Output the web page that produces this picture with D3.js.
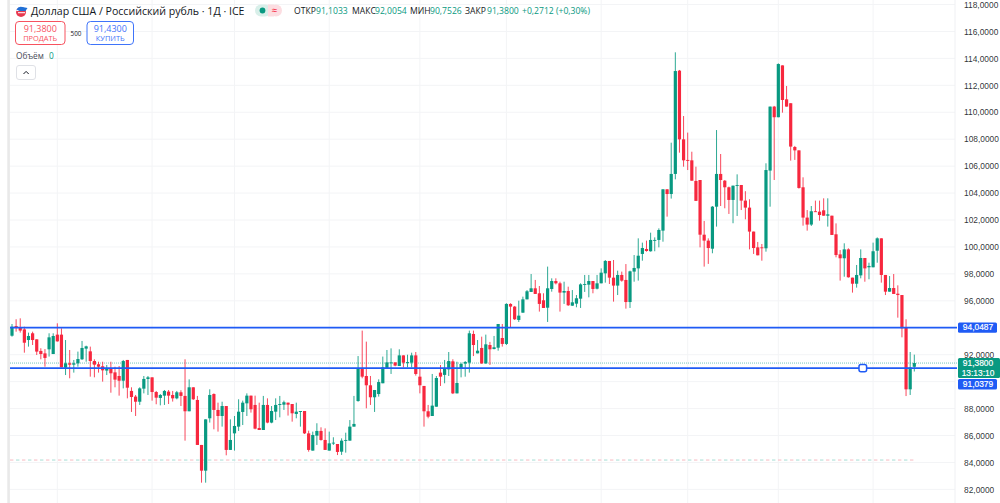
<!DOCTYPE html>
<html><head><meta charset="utf-8">
<style>
html,body{margin:0;padding:0;background:#fff;overflow:hidden}
svg{display:block}
text{font-family:"Open Sans","Noto Sans",sans-serif}
.ax text{font-family:"Liberation Sans",Arial,sans-serif}
</style>
<script src="https://cdn.jsdelivr.net/npm/d3@7"></script>
</head><body><div id="c"></div>
<script>
const opens=[93.41,94.13,94.01,93.88,93.09,93.59,93.14,92.28,92.10,92.40,92.05,93.49,93.49,91.04,91.36,91.26,91.36,91.66,92.45,92.25,
91.53,91.29,91.14,90.82,90.94,90.69,90.42,90.07,91.61,89.31,88.89,88.51,89.48,90.20,90.32,89.23,88.79,88.96,89.26,89.01,
88.76,89.21,88.94,87.80,89.58,88.64,85.30,83.39,87.28,89.08,87.90,87.45,88.19,84.93,86.16,86.66,87.75,88.39,88.96,88.27,
86.56,86.41,88.27,86.96,87.77,88.27,88.29,88.44,88.34,87.60,87.75,87.82,86.16,84.88,85.99,86.34,85.67,84.88,85.42,85.37,
84.80,85.62,85.62,86.66,88.56,90.99,90.42,89.73,88.84,89.08,89.88,90.99,91.36,91.43,91.16,91.95,91.41,91.41,91.95,90.37,
89.68,87.80,87.45,88.14,90.67,90.50,90.91,91.51,89.13,90.99,91.34,91.41,93.54,92.10,92.50,91.36,92.72,92.42,92.52,93.24,
92.80,95.77,95.57,94.58,95.12,96.11,96.66,96.93,96.56,96.04,95.49,96.88,97.47,97.30,96.61,96.73,95.64,95.79,96.16,97.20,
97.20,97.47,96.90,97.30,98.04,98.96,97.72,97.13,97.92,97.55,95.91,98.17,98.41,99.48,99.85,99.68,100.47,100.52,101.21,104.28,
103.93,105.42,113.09,107.99,106.46,106.43,104.90,104.97,100.91,100.47,99.87,102.99,105.42,104.92,104.43,103.49,104.55,104.60,103.44,102.92,
101.14,99.97,99.97,99.90,105.67,110.42,109.63,113.48,110.96,110.67,107.42,107.17,104.43,102.18,101.66,102.65,102.62,102.72,102.32,102.32,
100.94,99.45,99.16,99.82,97.72,97.27,97.89,99.18,98.49,98.49,99.72,100.64,97.92,96.68,96.95,96.53,96.43,94.01,89.43,91.1033];
const highs=[94.28,94.63,94.70,94.08,93.64,93.71,93.14,92.48,92.42,93.59,93.59,94.33,93.96,93.09,92.35,91.61,92.23,93.02,92.67,92.60,
91.66,91.48,91.48,91.24,91.48,91.11,91.16,91.61,91.61,89.58,89.01,89.58,90.42,90.42,90.32,89.31,89.08,89.38,89.38,89.31,
89.31,89.36,91.66,90.17,89.58,88.94,85.30,87.20,89.43,89.13,88.44,88.51,88.19,87.20,87.45,88.69,88.59,89.13,88.96,88.96,
88.44,88.94,88.76,88.19,88.76,88.94,88.59,88.44,88.34,88.44,87.82,87.82,86.36,86.29,86.91,86.61,86.53,86.29,85.87,85.37,
85.79,86.21,87.15,88.94,91.90,93.79,92.97,90.42,89.38,90.17,91.86,92.35,92.47,91.43,92.40,91.95,92.00,92.15,92.20,91.06,
89.68,88.27,90.57,90.42,91.24,91.61,92.20,91.66,91.48,91.41,91.53,93.79,93.79,93.09,93.34,93.49,92.95,93.39,94.28,94.28,
95.82,95.82,95.62,96.01,96.31,96.80,97.99,97.55,97.10,96.56,98.54,97.67,97.67,97.42,97.42,97.05,96.80,96.43,97.30,97.92,
97.92,97.47,97.92,98.41,99.03,98.96,99.03,98.24,98.17,98.73,98.24,99.40,100.64,100.32,100.47,101.06,100.71,101.38,104.28,104.28,
107.74,114.45,113.14,109.72,108.49,107.07,105.96,104.97,101.93,100.64,103.04,108.68,106.90,104.97,104.48,104.55,105.39,104.60,104.14,103.54,
101.14,100.37,100.22,106.21,110.42,110.47,113.63,113.48,111.95,110.67,107.50,107.17,105.17,102.74,103.04,103.44,103.44,103.61,103.61,102.32,
101.75,99.77,100.27,99.90,97.72,98.66,99.82,99.18,98.83,100.32,100.71,100.64,97.92,97.84,97.99,97.15,96.43,94.63,92.20,92.0054];
const lows=[93.34,93.71,93.64,92.15,92.60,92.72,91.98,91.66,91.11,91.86,92.05,92.97,91.06,90.49,90.25,90.67,91.11,91.61,91.48,90.37,
90.32,90.67,90.00,90.49,89.18,89.58,88.96,89.50,88.76,87.75,87.45,88.27,89.13,89.01,88.59,88.32,88.24,88.27,88.34,88.52,
88.69,88.19,85.62,87.80,88.64,85.30,82.50,82.50,86.96,86.46,86.29,86.66,84.53,84.93,84.88,86.34,86.78,87.45,87.70,86.46,
86.41,86.41,86.91,86.91,87.15,87.35,87.90,87.48,87.03,87.28,86.66,86.11,84.80,84.88,85.30,85.62,84.93,84.88,85.30,84.55,
84.56,84.73,85.62,86.66,88.51,90.25,88.02,88.27,87.75,88.89,89.88,90.99,90.57,91.14,91.16,91.06,91.06,91.06,90.45,89.13,
86.66,87.28,87.45,88.14,89.68,89.88,90.42,89.08,89.13,90.32,90.37,90.67,91.90,92.10,91.31,91.31,91.24,92.40,92.30,92.60,
92.72,94.03,94.58,94.43,95.12,96.11,96.66,96.51,95.20,95.47,94.43,96.68,97.22,95.20,95.77,95.62,95.62,95.52,95.47,96.66,
96.26,96.56,96.85,97.30,97.35,97.25,95.94,96.43,97.42,95.42,95.47,97.42,97.50,98.98,99.65,99.65,99.68,99.97,100.39,102.25,
103.59,105.02,107.00,105.96,105.71,104.92,103.42,99.97,98.54,98.74,99.53,101.51,103.04,102.87,102.45,101.76,102.30,102.74,102.05,99.82,
99.48,99.38,98.98,99.65,102.99,104.97,109.63,109.97,110.42,106.41,106.46,104.33,101.58,101.21,101.56,102.60,101.95,102.32,101.51,100.89,
99.23,97.50,97.79,97.72,96.61,96.98,97.67,97.42,97.60,98.49,98.83,97.35,96.43,96.68,96.51,94.75,93.29,88.93,89.01,90.7526];
const closes=[94.08,93.98,93.79,92.89,93.39,93.09,92.23,92.05,91.76,93.29,93.39,92.99,91.06,91.36,91.26,91.36,91.68,92.50,92.62,91.53,
91.26,91.11,90.84,90.99,90.62,90.15,90.07,91.53,89.55,88.86,88.51,89.50,90.20,90.32,89.23,88.81,89.01,89.31,88.96,88.76,
89.21,88.94,87.80,89.58,88.69,85.30,83.39,87.20,89.01,87.90,87.45,88.19,84.93,85.67,86.71,87.77,88.44,88.96,87.95,86.51,
86.41,88.27,86.96,87.82,88.27,88.34,88.47,88.29,87.65,87.77,87.82,86.16,84.93,86.04,86.34,85.67,84.93,85.42,85.47,84.78,
85.62,85.67,86.66,86.86,90.99,90.37,89.73,88.84,89.38,89.97,91.06,91.43,91.43,91.19,91.95,91.41,91.46,91.95,90.57,89.73,
87.80,87.40,88.22,90.27,90.37,90.99,91.53,89.13,89.90,91.31,91.46,93.59,92.72,92.30,91.36,92.77,92.40,92.55,94.28,92.80,
95.77,95.57,94.63,94.90,96.11,96.71,96.93,96.51,95.77,95.47,96.93,97.47,97.30,96.61,96.73,95.67,95.89,96.19,97.22,97.25,
97.47,96.88,97.30,98.09,98.96,97.72,97.13,97.92,97.50,95.91,98.19,98.44,99.35,99.92,99.70,100.52,100.52,101.26,104.28,103.93,
105.42,113.06,107.99,106.43,106.43,104.92,103.42,100.91,100.47,99.92,102.99,105.42,104.97,104.43,103.49,104.55,104.60,103.44,102.92,101.14,
99.92,99.38,99.95,105.71,110.42,109.63,113.58,110.91,110.42,107.45,107.17,104.38,102.18,101.66,102.65,102.60,102.37,102.32,102.42,100.89,
99.40,99.16,99.82,97.75,97.27,97.92,99.18,98.41,98.59,99.68,100.64,97.92,96.68,96.95,96.51,96.43,93.96,89.43,91.05,91.38];

const gridPrices=d3.range(82,119,2);
const tickLabelPrices=[82,84,86,88,92,96,98,100,102,104,106,108,110,112,114,116,118];
const monthStarts=[12,35,55,78,100,121,144,165,187,210];
const lineLevels=[94.0487,91.0379];
const lastPrice=91.38;
const basePrice=84.18;
const handleCandle=207.5;

const W=1000,H=503,LEFT=10,RIGHT=955;
const UP="#089981",DOWN="#f7273e",BLUE="#1f5bf5",INK="#131722",MUTED="#4a4e5a";
const fmt=v=>d3.format(".4f")(v).replace(".",",");

const y=d3.scaleLinear().domain([82,118]).range([489.4,4.5]);
const x=d3.scaleLinear().domain([1,opens.length]).range([12,914.3]);
const color=i=>closes[i]>=opens[i]?UP:DOWN;

const svg=d3.select("#c").append("svg").attr("width",W).attr("height",H).attr("viewBox",[0,0,W,H]);

// left edge strip
svg.append("rect").attr("x",7.3).attr("y",0).attr("width",2.6).attr("height",H).attr("fill","#e9e9e9");

// grid
svg.append("g").selectAll("line").data(gridPrices).join("line")
 .attr("x1",LEFT).attr("x2",RIGHT).attr("y1",d=>y(d)).attr("y2",d=>y(d)).attr("stroke","#f3f4f6");
svg.append("g").selectAll("line").data(monthStarts).join("line")
 .attr("x1",d=>x(d)).attr("x2",d=>x(d)).attr("y1",0).attr("y2",H).attr("stroke","#f3f4f6");
svg.append("line").attr("x1",RIGHT).attr("x2",RIGHT).attr("y1",0).attr("y2",H).attr("stroke","#eff0f3");

// axis
const axis=d3.axisRight(y).tickValues(tickLabelPrices).tickFormat(fmt).tickSize(0).tickPadding(0);
const ag=svg.append("g").attr("class","ax").attr("transform","translate(964,0)").call(axis);
ag.select(".domain").remove();
ag.selectAll("text").attr("font-size",8.4).attr("fill",INK).attr("fill-opacity",.9);

// base line (red / teal dashes)
[["#f7b9c0",0],["#a5ded5",-6]].forEach(([c,off])=>{
 svg.append("line").attr("x1",LEFT).attr("x2",916).attr("y1",y(basePrice)).attr("y2",y(basePrice))
  .attr("stroke",c).attr("stroke-dasharray","3.4 8.6").attr("stroke-dashoffset",off);
});
// last-price dotted line
svg.append("line").attr("x1",LEFT).attr("x2",RIGHT+2).attr("y1",y(lastPrice)).attr("y2",y(lastPrice))
 .attr("stroke",UP).attr("stroke-opacity",.55).attr("stroke-dasharray","1 1");

// candles
const idx=d3.range(opens.length);
const g=svg.append("g");
g.selectAll(".w").data(idx).join("line").attr("class","w")
 .attr("x1",i=>x(i+1)).attr("x2",i=>x(i+1)).attr("y1",i=>y(highs[i])).attr("y2",i=>y(lows[i]))
 .attr("stroke",color).attr("stroke-width",.85);
g.selectAll(".b").data(idx).join("rect").attr("class","b")
 .attr("x",i=>x(i+1)-1.6).attr("width",3.2)
 .attr("y",i=>y(Math.max(opens[i],closes[i])))
 .attr("height",i=>Math.max(.9,Math.abs(y(opens[i])-y(closes[i]))))
 .attr("fill",color);

// horizontal blue lines
svg.append("g").attr("transform","translate(0,.5)").selectAll("line").data(lineLevels).join("line")
 .attr("x1",LEFT).attr("x2",RIGHT+2).attr("y1",d=>y(d)).attr("y2",d=>y(d))
 .attr("stroke",BLUE).attr("stroke-width",1.8);
svg.append("rect").attr("x",x(handleCandle)-3.8).attr("y",y(lineLevels[1])-3.1).attr("width",7.6).attr("height",7.2)
 .attr("rx",2).attr("fill","#fff").attr("stroke",BLUE).attr("stroke-width",1.5);

// axis tags
const tag=(t0,t1,bg,lines)=>{
 svg.append("rect").attr("x",958).attr("y",t0).attr("width",t1[0]).attr("height",t1[1]).attr("rx",1.5).attr("fill",bg);
 lines.forEach((s,k)=>svg.append("text").attr("x",978).attr("y",t0+7.9+k*9.6)
  .attr("text-anchor","middle").attr("font-size",8.4).attr("fill","#fff")
  .attr("stroke","#fff").attr("stroke-width",.18)
  .style("font-family",'"Liberation Sans",Arial,sans-serif').text(s));
};
tag(y(lineLevels[0])-4.7,[39,10.4],BLUE,[fmt(lineLevels[0])]);
tag(358,[42,20],UP,[fmt(lastPrice),"13:13:10"]);
tag(379,[39,10.4],BLUE,[fmt(lineLevels[1])]);

// header
const T=(s,xx,yy,fs,fill,anchor)=>svg.append("text").attr("x",xx).attr("y",yy).attr("font-size",fs).attr("fill",fill)
  .attr("text-anchor",anchor||"start").text(s);
// flag icon
const fl=svg.append("g");
fl.append("circle").attr("cx",21).attr("cy",12).attr("r",5).attr("fill","#e8384f");
fl.append("path").attr("d","M16 12a5 5 0 0 1 5-5h2v4h-7z").attr("fill","#fff");
fl.append("path").attr("d","M16.5 9.5a5 5 0 0 1 6-2.5l5 1-2 3h-6z").attr("fill","#1f6fd6");
fl.append("rect").attr("x",18).attr("y",12.2).attr("width",7).attr("height",1).attr("fill","#fff");
T("Доллар США / Российский рубль · 1Д · ICE",31,14.6,10.6,INK);
// status pills
svg.append("rect").attr("x",255).attr("y",4.5).attr("width",16).attr("height",12).attr("rx",6).attr("fill","#d8efe9");
svg.append("rect").attr("x",270).attr("y",4.5).attr("width",12).attr("height",12).attr("rx",6).attr("fill","#fcdde1");
svg.append("rect").attr("x",268).attr("y",4.5).attr("width",6).attr("height",12).attr("fill","#fcdde1");
svg.append("circle").attr("cx",262.5).attr("cy",10.5).attr("r",2.9).attr("fill",UP);
T("≈",274.5,13.8,10,DOWN,"middle");

const legendPairs=[["ОТКР",294,"91,1033",316],["МАКС",352,"92,0054",375],["МИН",410,"90,7526",430],["ЗАКР",465,"91,3800",487]];
legendPairs.forEach(([a,ax,b,bx])=>{T(a,ax,13.6,8.6,INK);T(b,bx,13.6,8.6,UP);});
T("+0,2712 (+0,30%)",522,13.6,8.6,UP);

// buttons
const btn=(xx,w,c,a,b)=>{
 svg.append("rect").attr("x",xx).attr("y",21.5).attr("width",w).attr("height",23).attr("rx",3.5).attr("fill","#fff").attr("stroke",c).attr("stroke-width",1);
 T(a,xx+w/2,32.2,9,c,"middle");
 T(b,xx+w/2,41.2,7.4,c,"middle");
};
btn(15.5,49.5,"#f7525f","91,3800","ПРОДАТЬ");
btn(87,46.5,"#3f74fa","91,4300","КУПИТЬ");
T("500",76,36,6.3,INK,"middle");
T("Объём",16,59.2,8.3,MUTED);
T("0",49,59.2,8.3,UP);
svg.append("rect").attr("x",16.5).attr("y",65.5).attr("width",19).attr("height",14).attr("rx",2.5).attr("fill","#fff").attr("stroke","#dfe1e6");
svg.append("path").attr("d","M23.5 74l2.6-2.6 2.6 2.6").attr("fill","none").attr("stroke",INK).attr("stroke-width",1);
</script></body></html>
